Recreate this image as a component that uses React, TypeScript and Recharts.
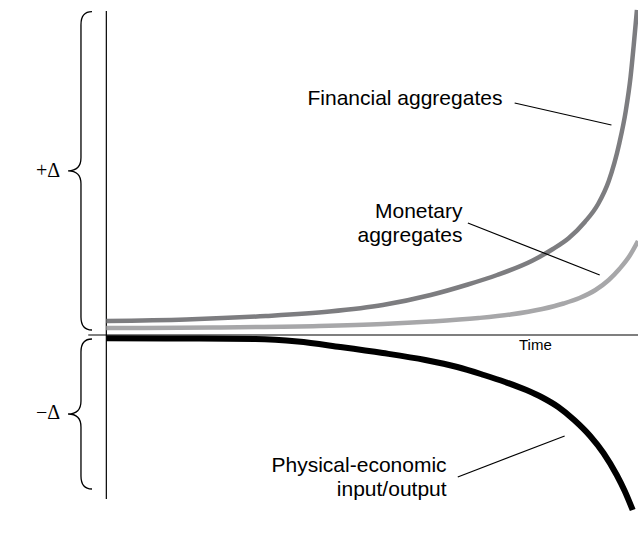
import { LineChart, Line, XAxis, YAxis, ReferenceLine, ReferenceDot, ReferenceArea } from "recharts";

// time runs 0..100, the level is an arbitrary index with 0 on the time axis
const financial = [
  { t: 0, v: 14 }, { t: 15, v: 15.5 }, { t: 30, v: 19 }, { t: 42, v: 23.5 },
  { t: 52, v: 30 }, { t: 61, v: 40 }, { t: 68, v: 50.5 }, { t: 73.5, v: 60 },
  { t: 80, v: 74 }, { t: 84, v: 86 }, { t: 87, v: 97 }, { t: 90, v: 113 },
  { t: 92.5, v: 131 }, { t: 94.5, v: 154 }, { t: 96.5, v: 192 }, { t: 97.7, v: 224 },
  { t: 98.6, v: 258 }, { t: 99.2, v: 290 }, { t: 99.8, v: 325 },
];

const monetary = [
  { t: 0, v: 7 }, { t: 20, v: 7.5 }, { t: 40, v: 9 }, { t: 52, v: 11 },
  { t: 61, v: 13.5 }, { t: 70, v: 17 }, { t: 76, v: 20.5 }, { t: 82, v: 26 },
  { t: 86, v: 31.5 }, { t: 89, v: 37 }, { t: 92, v: 45 }, { t: 94.5, v: 55 },
  { t: 96.5, v: 66 }, { t: 98.4, v: 79 }, { t: 100, v: 94 },
];

const physical = [
  { t: 0, v: -3.3 }, { t: 15, v: -3.5 }, { t: 28, v: -4 }, { t: 36, v: -6.5 },
  { t: 44, v: -12 }, { t: 52, v: -18 }, { t: 60, v: -25 }, { t: 66, v: -32 },
  { t: 71, v: -40 }, { t: 75, v: -47 }, { t: 79, v: -55 }, { t: 82, v: -62.5 },
  { t: 85, v: -72 }, { t: 88, v: -85 }, { t: 91, v: -101 }, { t: 93.5, v: -118 },
  { t: 96, v: -140 }, { t: 97.5, v: -156 }, { t: 99, v: -175 },
];

// leader lines from labels to curves
const leaders = [
  [{ x: 76.8, y: 232 }, { x: 95, y: 210 }],
  [{ x: 68, y: 112 }, { x: 92.8, y: 60 }],
  [{ x: 66.1, y: -142 }, { x: 86.2, y: -101 }],
];

const labels = [
  { t: 74.5, v: 230, lines: ["Financial aggregates"] },
  { t: 67, v: 117, lines: ["Monetary", "aggregates"] },
  { t: 64, v: -136.7, lines: ["Physical-economic", "input/output"] },
];

const braces = [
  { from: 5, to: 323.3, sign: "+Δ", base: 158.3 },
  { from: -154, to: -4, sign: "−Δ", base: -84 },
];

const sans = "'Liberation Sans', Arial, Helvetica, sans-serif";
const serif = "'Liberation Serif', 'Times New Roman', serif";

function textShape(lines: string[], anchor: string, size: number, family: string) {
  return (p: any) => (
    <text x={p.cx} y={p.cy} textAnchor={anchor} fontSize={size} fontFamily={family} fill="#000">
      {lines.map((l, i) => (
        <tspan key={i} x={p.cx} dy={i === 0 ? 0 : 24}>{l}</tspan>
      ))}
    </text>
  );
}

function Brace(p: any) {
  const { x, y, width, height } = p;
  const end = x + width;
  const xv = x + width * 0.54;
  const mid = y + height / 2;
  const r = 13;
  const d =
    `M${end},${y} Q${xv},${y} ${xv},${y + r} L${xv},${mid - r} Q${xv},${mid} ${x},${mid} ` +
    `Q${xv},${mid} ${xv},${mid + r} L${xv},${y + height - r} Q${xv},${y + height} ${end},${y + height}`;
  return <path d={d} fill="none" stroke="#000" strokeWidth={1.3} />;
}

export default function App() {
  return (
    <div style={{ position: "absolute", left: 0, top: 0 }}>
      <LineChart width={638} height={545} margin={{ top: 10, right: 0, bottom: 30, left: 0 }}>
        <XAxis type="number" dataKey="t" domain={[-20, 100]} hide />
        <YAxis type="number" dataKey="v" domain={[-180, 325]} hide />

        <ReferenceLine segment={[{ x: -3.4, y: 0 }, { x: 100, y: 0 }]} stroke="#555" strokeWidth={1.3} />
        <ReferenceLine segment={[{ x: 0, y: 324 }, { x: 0, y: -164 }]} stroke="#000" strokeWidth={1.2} />

        {braces.map((b, i) => (
          <ReferenceArea key={i} x1={-7.2} x2={-2.7} y1={b.from} y2={b.to} shape={Brace} />
        ))}
        {braces.map((b, i) => (
          <ReferenceDot key={"s" + i} x={-8.7} y={b.base} shape={textShape([b.sign], "end", 20, serif)} />
        ))}

        <Line data={financial} dataKey="v" type="monotone" stroke="#7d7d80" strokeWidth={4.5}
          dot={false} activeDot={false} isAnimationActive={false} />
        <Line data={monetary} dataKey="v" type="monotone" stroke="#a7a7a9" strokeWidth={4.5}
          dot={false} activeDot={false} isAnimationActive={false} />
        <Line data={physical} dataKey="v" type="monotone" stroke="#000" strokeWidth={6}
          dot={false} activeDot={false} isAnimationActive={false} />

        {leaders.map((s, i) => (
          <ReferenceLine key={"l" + i} segment={s} stroke="#000" strokeWidth={1.2} />
        ))}
        {labels.map((l, i) => (
          <ReferenceDot key={"t" + i} x={l.t} y={l.v} shape={textShape(l.lines, "end", 21, sans)} />
        ))}
        <ReferenceDot x={80.7} y={-15} shape={textShape(["Time"], "middle", 15, sans)} />
      </LineChart>
    </div>
  );
}
